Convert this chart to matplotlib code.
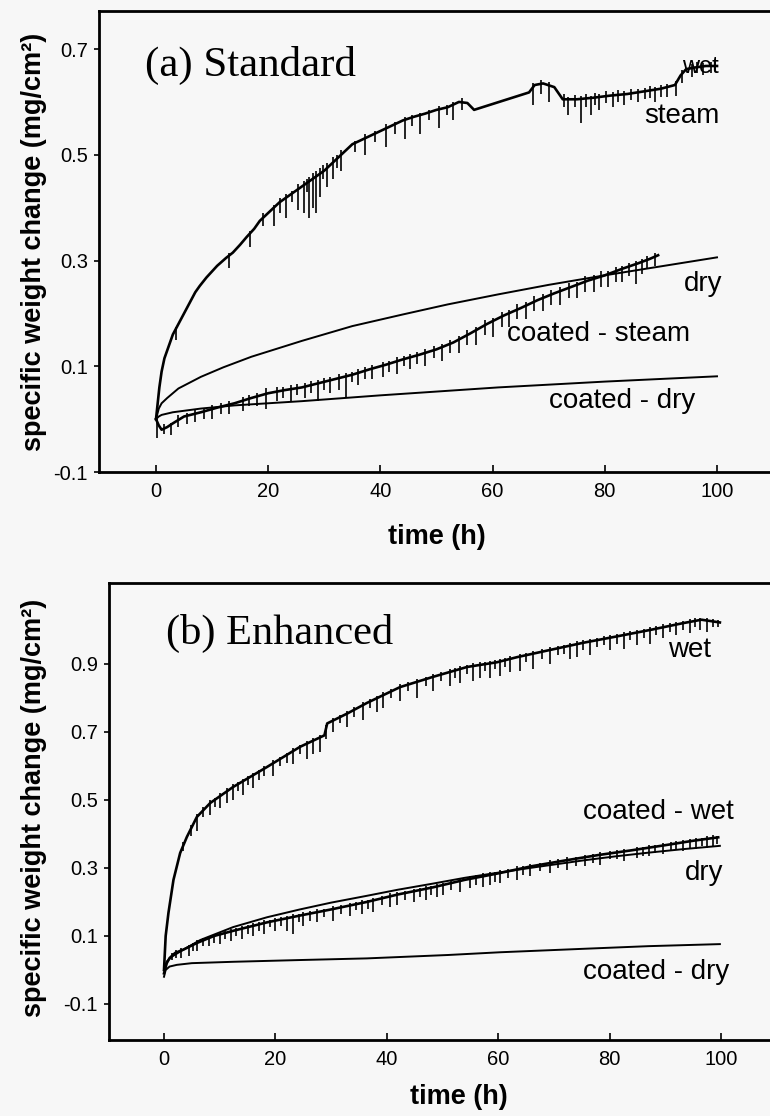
import matplotlib
matplotlib.use("Agg")
import matplotlib.pyplot as plt

plt.rcParams['font.family'] = ['Liberation Sans', 'DejaVu Sans']

# ---------------- data: panel (a) Standard ----------------
a_steam_t = [0.0, 0.3, 0.6, 1.0, 1.5, 2.0, 3.0, 4.0, 5.0, 6.1, 7.0, 7.8, 9.0, 10.9, 12.5, 13.7, 15.0,
             16.2, 17.5, 18.5, 20.0, 22.0, 24.0, 26.0, 28.0, 30.0, 32.0, 33.5, 35.0, 36.0, 38.0, 40.0,
             42.0, 44.0, 46.0, 48.0, 50.0, 52.0, 54.0, 55.5, 56.7, 66.5, 67.5, 69.0, 71.0, 72.5, 75.0,
             78.0, 81.0, 84.0, 87.0, 90.0, 92.5, 93.5, 94.5, 96.0, 98.0, 100.0]
a_steam_v = [0.0, 0.03, 0.06, 0.09, 0.115, 0.13, 0.16, 0.18, 0.2, 0.222, 0.24, 0.252, 0.268, 0.29, 0.305,
             0.315, 0.33, 0.345, 0.36, 0.375, 0.39, 0.41, 0.425, 0.44, 0.455, 0.47, 0.49, 0.505, 0.52,
             0.525, 0.535, 0.545, 0.555, 0.565, 0.572, 0.578, 0.585, 0.59, 0.6, 0.598, 0.585, 0.618,
             0.632, 0.635, 0.628, 0.605, 0.605, 0.608, 0.612, 0.615, 0.62, 0.625, 0.632, 0.65, 0.662,
             0.665, 0.668, 0.668]
a_steam_spk_t = [0.1, 3.6, 13.0, 16.8, 21.0, 23.2, 25.4, 26.4, 27.2, 27.9, 28.5, 29.2, 30.4, 31.6, 33.0,
                 37.2, 41.0, 44.3, 47.0, 50.5, 53.0, 67.2, 70.0, 73.5, 75.7, 77.5, 79.0, 81.5, 83.5,
                 86.0, 87.2, 89.0, 91.0, 92.7, 95.5, 97.5,
                 19.0, 22.1, 24.3, 26.9, 29.8, 32.3, 35.5, 39.0, 42.6, 45.6, 48.7, 51.8, 54.6, 68.6,
                 72.8, 74.6, 76.6, 78.3, 80.2, 82.4, 84.7, 88.1, 90.0, 93.8, 96.5, 99.0]
a_steam_spk_lo = [-0.035, 0.15, 0.285, 0.325, 0.365, 0.38, 0.395, 0.39, 0.38, 0.40, 0.39, 0.42, 0.44,
                  0.455, 0.47, 0.50, 0.515, 0.53, 0.54, 0.55, 0.565, 0.594, 0.60, 0.575, 0.56, 0.575,
                  0.585, 0.59, 0.595, 0.60, 0.605, 0.60, 0.61, 0.612, 0.648, 0.65,
                  0.365, 0.39, 0.41, 0.43, 0.455, 0.475, 0.505, 0.525, 0.54, 0.555, 0.565, 0.575,
                  0.585, 0.615, 0.59, 0.59, 0.59, 0.595, 0.598, 0.60, 0.603, 0.607, 0.61, 0.635,
                  0.655, 0.655]
a_steam_spk_hi = [0.0, 0.175, 0.315, 0.355, 0.405, 0.425, 0.445, 0.45, 0.458, 0.465, 0.47, 0.475, 0.485,
                  0.495, 0.51, 0.54, 0.558, 0.572, 0.58, 0.592, 0.60, 0.635, 0.638, 0.61, 0.612, 0.612,
                  0.615, 0.618, 0.62, 0.625, 0.626, 0.628, 0.634, 0.64, 0.672, 0.674,
                  0.39, 0.418, 0.432, 0.455, 0.48, 0.5, 0.527, 0.545, 0.562, 0.575, 0.585, 0.595,
                  0.607, 0.642, 0.615, 0.614, 0.615, 0.617, 0.62, 0.622, 0.625, 0.63, 0.632, 0.66,
                  0.676, 0.675]

a_dry_t = [0.0, 0.5, 1.0, 2.0, 4.0, 8.0, 12.0, 17.0, 26.0, 35.0, 44.0, 52.0, 61.0, 70.0, 80.0, 90.0, 100.0]
a_dry_v = [0.0, 0.02, 0.03, 0.04, 0.058, 0.08, 0.098, 0.118, 0.148, 0.176, 0.198, 0.217, 0.236, 0.254,
           0.272, 0.289, 0.306]

a_cst_t = [0.0, 0.5, 1.0, 2.0, 3.0, 5.0, 8.0, 11.0, 14.0, 17.0, 20.0, 23.0, 26.0, 29.0, 32.0, 35.0, 38.0,
           41.0, 44.0, 47.0, 50.0, 53.0, 56.0, 59.0, 62.0, 65.0, 68.0, 71.0, 74.0, 77.0, 80.0, 83.0,
           86.0, 88.0, 89.5]
a_cst_v = [0.0, -0.012, -0.02, -0.015, -0.008, 0.005, 0.013, 0.022, 0.03, 0.04, 0.049, 0.055, 0.06,
           0.068, 0.076, 0.084, 0.094, 0.103, 0.113, 0.122, 0.132, 0.145, 0.162, 0.18, 0.196, 0.21,
           0.225, 0.238, 0.25, 0.262, 0.272, 0.284, 0.295, 0.303, 0.31]
a_cst_spk_t = [4, 7, 10, 13, 15.5, 18, 19.6, 21.5, 24, 26.5, 28.8, 31, 32.7, 33.8, 36, 38.5, 40.5, 43,
               45.3, 48, 51, 54, 57, 60, 63, 66, 69, 72, 75, 78, 80.5, 83, 85.5, 87.5,
               1.5, 2.6, 5.5, 8.6, 11.6, 16.6, 22.6, 25.2, 27.6, 30.0, 35.0, 37.2, 41.6, 44.2, 46.6,
               49.6, 52.4, 55.4, 58.6, 61.6, 64.4, 67.4, 70.4, 73.6, 76.4, 79.4, 82.0, 84.4, 86.6, 89.0]
a_cst_spk_lo = [-0.015, -0.005, 0.0, 0.01, 0.015, 0.025, 0.02, 0.035, 0.035, 0.04, 0.035, 0.05, 0.055,
                0.04, 0.065, 0.075, 0.08, 0.085, 0.095, 0.1, 0.11, 0.125, 0.14, 0.155, 0.175, 0.19,
                0.205, 0.215, 0.23, 0.24, 0.25, 0.26, 0.255, 0.285,
                -0.028, -0.03, -0.01, 0.0, 0.01, 0.025, 0.04, 0.045, 0.05, 0.055, 0.07, 0.075, 0.09,
                0.1, 0.105, 0.115, 0.125, 0.14, 0.16, 0.175, 0.19, 0.205, 0.215, 0.23, 0.24, 0.25,
                0.26, 0.27, 0.275, 0.29]
a_cst_spk_hi = [0.008, 0.018, 0.026, 0.035, 0.042, 0.05, 0.058, 0.06, 0.064, 0.068, 0.074, 0.08, 0.085,
                0.088, 0.094, 0.102, 0.108, 0.118, 0.124, 0.132, 0.143, 0.157, 0.175, 0.192, 0.207,
                0.222, 0.236, 0.249, 0.26, 0.272, 0.28, 0.29, 0.3, 0.308,
                -0.01, -0.008, 0.012, 0.02, 0.03, 0.046, 0.06, 0.066, 0.072, 0.078, 0.09, 0.098, 0.11,
                0.12, 0.127, 0.138, 0.15, 0.168, 0.188, 0.203, 0.218, 0.232, 0.245, 0.258, 0.27,
                0.28, 0.288, 0.296, 0.303, 0.314]

a_cdry_t = [0.0, 0.5, 1.0, 3.0, 8.0, 14.0, 26.0, 40.0, 61.0, 80.0, 100.0]
a_cdry_v = [0.0, 0.005, 0.008, 0.013, 0.02, 0.026, 0.034, 0.045, 0.06, 0.071, 0.081]

# ---------------- data: panel (b) Enhanced ----------------
b_wet_t = [0.0, 0.3, 0.8, 1.7, 2.9, 4.1, 5.9, 8.3, 12.4, 18.5, 24.4, 28.8, 29.3, 33.0, 36.4, 42.4,
           48.3, 54.4, 59.8, 63.4, 69.0, 75.2, 81.0, 87.3, 93.2, 96.5, 99.8]
b_wet_v = [0.0, 0.10, 0.168, 0.265, 0.344, 0.391, 0.45, 0.491, 0.538, 0.597, 0.656, 0.69, 0.725, 0.755,
           0.785, 0.832, 0.862, 0.891, 0.905, 0.92, 0.94, 0.962, 0.98, 1.0, 1.02, 1.03, 1.022]
b_wet_spk_t = [5.9, 8.3, 10.1, 11.3, 12.4, 14.2, 16.0, 19.6, 23.2, 25.6, 26.8, 28.0, 30.4, 32.8, 35.8,
               38.2, 39.4, 42.4, 45.4, 48.3, 51.3, 53.1, 55.5, 56.7, 58.5, 60.3, 62.1, 63.9, 66.3,
               69.3, 72.9, 74.1, 76.5, 80.1, 82.5, 84.9, 87.3, 89.6, 92.0, 94.4, 96.2, 97.4,
               3.5, 4.8, 7.0, 9.2, 13.3, 15.1, 17.0, 18.0, 20.8, 22.0, 24.4, 29.0, 31.6, 34.2, 37.0,
               40.8, 43.8, 47.0, 49.8, 52.2, 54.4, 57.6, 59.4, 61.2, 65.0, 67.8, 70.8, 71.8, 75.3,
               77.8, 79.0, 81.3, 83.7, 86.1, 88.4, 90.8, 93.2, 95.3, 98.5, 99.5]
b_wet_spk_lo = [0.41, 0.455, 0.475, 0.49, 0.50, 0.515, 0.535, 0.57, 0.605, 0.62, 0.635, 0.64, 0.70,
                0.715, 0.735, 0.76, 0.77, 0.79, 0.80, 0.82, 0.835, 0.845, 0.85, 0.86, 0.86, 0.865,
                0.875, 0.88, 0.885, 0.90, 0.915, 0.92, 0.925, 0.94, 0.945, 0.955, 0.96, 0.975, 0.985,
                0.99, 1.0, 0.995,
                0.35, 0.395, 0.45, 0.48, 0.525, 0.545, 0.56, 0.57, 0.6, 0.61, 0.635, 0.68, 0.725,
                0.745, 0.77, 0.8, 0.82, 0.835, 0.85, 0.86, 0.87, 0.88, 0.885, 0.89, 0.905, 0.915,
                0.925, 0.93, 0.94, 0.95, 0.955, 0.96, 0.97, 0.975, 0.985, 0.995, 1.0, 1.01, 1.01, 1.008]
b_wet_spk_hi = [0.458, 0.5, 0.52, 0.534, 0.546, 0.563, 0.58, 0.616, 0.652, 0.673, 0.682, 0.692, 0.741,
                0.761, 0.788, 0.807, 0.817, 0.84, 0.855, 0.87, 0.884, 0.893, 0.902, 0.905, 0.91, 0.915,
                0.923, 0.93, 0.938, 0.949, 0.962, 0.966, 0.974, 0.985, 0.993, 1.0, 1.008, 1.016,
                1.024, 1.032, 1.036, 1.034,
                0.375, 0.425, 0.478, 0.507, 0.554, 0.571, 0.589, 0.6, 0.626, 0.638, 0.663, 0.72,
                0.75, 0.773, 0.797, 0.827, 0.846, 0.862, 0.876, 0.887, 0.898, 0.907, 0.911, 0.918,
                0.933, 0.943, 0.953, 0.957, 0.969, 0.977, 0.981, 0.988, 0.996, 1.003, 1.011, 1.019,
                1.027, 1.034, 1.033, 1.03]

b_cwet_t = [0.0, 0.5, 1.0, 2.0, 3.5, 6.0, 9.0, 12.4, 18.5, 24.4, 30.0, 36.4, 42.0, 48.3, 54.0, 60.3,
            66.0, 72.0, 78.0, 84.0, 90.0, 95.0, 99.5]
b_cwet_v = [-0.01, 0.02, 0.035, 0.05, 0.06, 0.08, 0.1, 0.115, 0.14, 0.16, 0.178, 0.2, 0.222, 0.243,
            0.265, 0.285, 0.305, 0.322, 0.338, 0.352, 0.367, 0.38, 0.39]
b_cwet_spk_t = [3, 4.5, 6, 8, 10, 12, 14, 16, 18, 20, 22, 23.2, 25, 27.5, 30.4, 33.4, 35.5, 37.6, 40.6,
                41.8, 44.8, 47.1, 49, 50.1, 53.1, 54.9, 57.3, 58.5, 60.3, 63.3, 65.7, 69.3, 72.3,
                75.5, 78.3, 82.5, 84.9, 87, 89.6, 93.2, 95.6, 97.4, 98.6,
                1.5, 2.2, 5.2, 7.0, 9.0, 11.0, 13.0, 15.0, 17.0, 19.0, 21.0, 24.2, 26.2, 28.8, 31.8,
                34.4, 36.6, 39.2, 43.2, 46.0, 48.0, 51.6, 56.1, 59.4, 61.8, 64.5, 67.5, 70.8, 74.0,
                77.0, 80.0, 81.3, 86.0, 88.2, 91.0, 92.0, 94.4, 96.5, 99.3]
b_cwet_spk_lo = [0.035, 0.04, 0.055, 0.07, 0.075, 0.085, 0.09, 0.10, 0.105, 0.115, 0.115, 0.105, 0.13,
                 0.14, 0.145, 0.16, 0.165, 0.17, 0.185, 0.19, 0.20, 0.205, 0.215, 0.22, 0.23, 0.24,
                 0.245, 0.25, 0.255, 0.265, 0.275, 0.285, 0.295, 0.305, 0.31, 0.32, 0.33, 0.335,
                 0.34, 0.35, 0.355, 0.36, 0.365,
                 0.03, 0.035, 0.055, 0.07, 0.08, 0.09, 0.1, 0.105, 0.115, 0.125, 0.13, 0.14, 0.145,
                 0.155, 0.165, 0.175, 0.18, 0.19, 0.205, 0.215, 0.22, 0.235, 0.25, 0.26, 0.27, 0.28,
                 0.29, 0.3, 0.305, 0.315, 0.325, 0.325, 0.335, 0.345, 0.35, 0.355, 0.36, 0.365, 0.37]
b_cwet_spk_hi = [0.065, 0.073, 0.088, 0.10, 0.112, 0.121, 0.128, 0.138, 0.146, 0.153, 0.16, 0.164, 0.17,
                 0.178, 0.187, 0.198, 0.205, 0.212, 0.225, 0.229, 0.239, 0.247, 0.253, 0.257, 0.27,
                 0.276, 0.284, 0.288, 0.294, 0.305, 0.312, 0.322, 0.331, 0.339, 0.347, 0.356, 0.362,
                 0.368, 0.374, 0.383, 0.389, 0.393, 0.396,
                 0.05, 0.058, 0.08, 0.093, 0.106, 0.115, 0.123, 0.131, 0.14, 0.148, 0.155, 0.165,
                 0.172, 0.18, 0.19, 0.199, 0.207, 0.217, 0.232, 0.241, 0.248, 0.262, 0.278, 0.288,
                 0.296, 0.306, 0.315, 0.325, 0.333, 0.341, 0.349, 0.352, 0.363, 0.368, 0.376, 0.378,
                 0.384, 0.389, 0.395]

b_dry_t = [0.0, 0.5, 1.5, 3.4, 6.5, 12.4, 18.5, 24.4, 30.0, 36.4, 42.0, 48.3, 54.0, 60.3, 67.0, 75.2,
           81.0, 87.0, 93.0, 99.8]
b_dry_v = [0.0, 0.025, 0.04, 0.059, 0.088, 0.126, 0.155, 0.178, 0.198, 0.218, 0.236, 0.254, 0.271,
           0.287, 0.303, 0.322, 0.334, 0.345, 0.355, 0.365]

b_cdry_t = [0.0, 0.3, 1.0, 2.3, 5.0, 12.4, 24.0, 36.4, 51.0, 60.3, 75.0, 87.0, 99.8]
b_cdry_v = [-0.02, 0.0, 0.01, 0.015, 0.02, 0.024, 0.029, 0.034, 0.044, 0.052, 0.062, 0.07, 0.076]

x_ticks = [0, 20, 40, 60, 80, 100]
a_y_ticks = [-0.1, 0.1, 0.3, 0.5, 0.7]
a_y_labels = ['-0.1', '0.1', '0.3', '0.5', '0.7']
b_y_ticks = [-0.1, 0.1, 0.3, 0.5, 0.7, 0.9]
b_y_labels = ['-0.1', '0.1', '0.3', '0.5', '0.7', '0.9']

ylabel_text = 'specific weight change (mg/cm\u00b2)'
xlabel_text = 'time (h)'

# ---------------- figure ----------------
W, H = 770, 1116
BG = '#f7f7f7'
fig = plt.figure(figsize=(W / 100, H / 100), dpi=100, facecolor=BG)


def px_rect(left, top, right, bottom):
    return [left / W, 1 - bottom / H, (right - left) / W, (bottom - top) / H]


def style_axes(ax, yticks, ylabels):
    ax.set_facecolor(BG)
    for s in ax.spines.values():
        s.set_linewidth(2.0)
    ax.set_xticks(x_ticks)
    ax.set_yticks(yticks, labels=ylabels)
    ax.tick_params(axis='x', direction='in', length=5, width=1.2, labelsize=14.5, pad=7)
    ax.tick_params(axis='y', direction='out', length=3.5, width=1.2, labelsize=14.5, pad=4.5)
    ax.set_ylabel(ylabel_text, fontsize=19.5, fontweight='bold')
    ax.set_xlabel(xlabel_text, fontsize=19.5, fontweight='bold')


LW_SMOOTH = 1.4
LW_NOISY = 1.9
LW_SPK = 1.2
K = 'black'
SERIF = ['Liberation Serif', 'DejaVu Serif']

# panel (a)
axA = fig.add_axes(px_rect(99, 11, 775, 472))
axA.set_xlim(-57 / 5.61, (775 - 156) / 5.61)
axA.set_ylim(-0.1, 0.772)
style_axes(axA, a_y_ticks, a_y_labels)
axA.xaxis.set_label_coords(0.5, -0.112)
axA.yaxis.set_label_coords(-0.077, 0.5)

axA.text(97.0, 0.666, 'wet', fontsize=17, ha='center', va='center', zorder=1)
axA.plot(a_steam_t, a_steam_v, color=K, lw=LW_NOISY, zorder=3)
axA.vlines(a_steam_spk_t, a_steam_spk_lo, a_steam_spk_hi, color=K, lw=LW_SPK, zorder=3)
axA.plot(a_dry_t, a_dry_v, color=K, lw=LW_SMOOTH, zorder=3)
axA.plot(a_cst_t, a_cst_v, color=K, lw=LW_NOISY, zorder=3)
axA.vlines(a_cst_spk_t, a_cst_spk_lo, a_cst_spk_hi, color=K, lw=LW_SPK, zorder=3)
axA.plot(a_cdry_t, a_cdry_v, color=K, lw=LW_SMOOTH, zorder=3)

axA.text(-2.0, 0.668, '(a) Standard', family=SERIF, fontsize=31, ha='left', va='center')
axA.text(93.8, 0.573, 'steam', fontsize=20, ha='center', va='center')
axA.text(97.5, 0.256, 'dry', fontsize=20, ha='center', va='center')
axA.text(78.8, 0.161, 'coated - steam', fontsize=20, ha='center', va='center')
axA.text(83.1, 0.034, 'coated - dry', fontsize=20, ha='center', va='center')

# panel (b)
axB = fig.add_axes(px_rect(109, 583, 775, 1040))
axB.set_xlim(-55 / 5.57, (775 - 164) / 5.57)
axB.set_ylim(-0.206, 1.138)
style_axes(axB, b_y_ticks, b_y_labels)
axB.xaxis.set_label_coords(0.526, -0.096)
axB.yaxis.set_label_coords(-0.093, 0.508)

axB.plot(b_wet_t, b_wet_v, color=K, lw=LW_NOISY, zorder=3)
axB.vlines(b_wet_spk_t, b_wet_spk_lo, b_wet_spk_hi, color=K, lw=LW_SPK, zorder=3)
axB.plot(b_dry_t, b_dry_v, color=K, lw=LW_SMOOTH, zorder=3)
axB.plot(b_cwet_t, b_cwet_v, color=K, lw=LW_NOISY, zorder=3)
axB.vlines(b_cwet_spk_t, b_cwet_spk_lo, b_cwet_spk_hi, color=K, lw=LW_SPK, zorder=3)
axB.plot(b_cdry_t, b_cdry_v, color=K, lw=LW_SMOOTH, zorder=3)

axB.text(0.4, 0.99, '(b) Enhanced', family=SERIF, fontsize=30.5, ha='left', va='center')
axB.text(94.4, 0.941, 'wet', fontsize=20, ha='center', va='center')
axB.text(88.7, 0.465, 'coated - wet', fontsize=20, ha='center', va='center')
axB.text(96.9, 0.285, 'dry', fontsize=20, ha='center', va='center')
axB.text(88.3, -0.006, 'coated - dry', fontsize=20, ha='center', va='center')

fig.savefig('out.png', dpi=100, facecolor=BG)
